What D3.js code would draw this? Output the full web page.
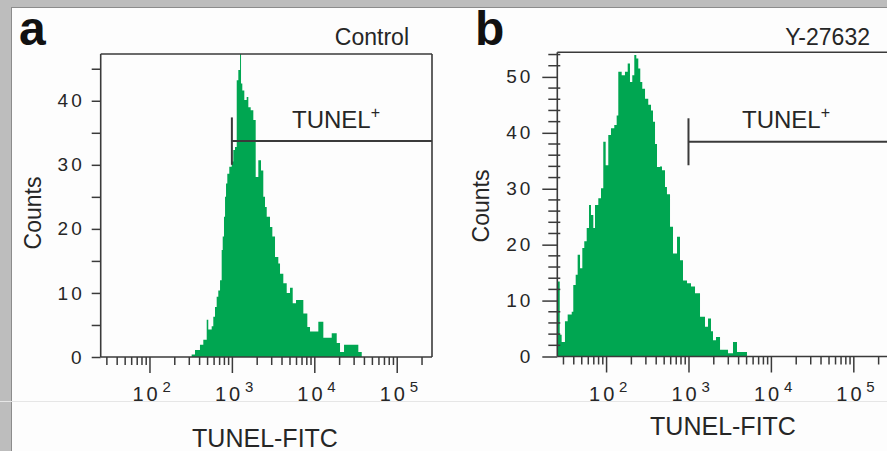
<!DOCTYPE html>
<html>
<head>
<meta charset="utf-8">
<script src="https://cdn.jsdelivr.net/npm/d3@7"></script>
<style>
  html, body { margin: 0; padding: 0; background: #fdfdfd; }
  svg { display: block; }
  text { font-family: "Liberation Sans", Arial, sans-serif; fill: #262626; }
</style>
</head>
<body>
<svg id="chart" width="887" height="451"></svg>
<script>
// ---------------- data ----------------
// Panel a (Control): FITC intensity at the start of each histogram step, and its count
const controlFITC = [325, 357, 410, 450, 495, 517, 569, 595, 624, 654, 684, 718, 752, 774, 802, 826, 849, 880, 930, 995, 1040, 1091, 1145, 1197, 1256, 1291, 1338, 1415, 1513, 1583, 1691, 1820, 1945, 2093, 2256, 2405, 2523, 2647, 2901, 3096, 3337, 3658, 3837, 4207, 4627, 5073, 5472, 6000, 7360, 8230, 8870, 11190, 12870, 16270, 18710, 20520, 22950, 34210, 37640];
const controlCounts = [0.4, 1.1, 1.9, 2.7, 5.8, 4.3, 4.8, 6.3, 7.8, 9.4, 10.4, 12.0, 16.7, 18.8, 21.9, 25, 27.1, 28.6, 29.7, 30.5, 32.3, 32.8, 43.2, 44.8, 47.3, 42.7, 41.6, 40.1, 40.6, 39.0, 38.5, 37.0, 28.1, 30.7, 29.1, 25, 23.4, 21.9, 20.3, 18.8, 15.6, 14.6, 13, 11.5, 10, 10.8, 8.4, 8.9, 6.8, 4.7, 4.0, 5.5, 3.0, 3.7, 2.2, 0.8, 1.9, 0.8, 0];

// Panel b (Y-27632)
const y27632FITC = [25.6, 27.4, 28.9, 31.7, 34.2, 38.3, 40.0, 42.8, 45.2, 48.3, 51.5, 54.4, 58.2, 62.1, 65.6, 70.0, 73.4, 80.5, 86.8, 92.5, 98.9, 106.4, 114.7, 125.8, 134.5, 140.7, 154.7, 169.6, 183, 195, 208, 220, 232.7, 246, 260, 275, 297, 325, 351, 371, 392.6, 415, 451, 477, 519, 548, 597, 649, 726, 789, 858, 960, 1073, 1200, 1380, 1586, 1726, 1876, 1984, 2158, 2414, 3018, 3468, 3878, 5130];
const y27632Counts = [13.4, 3.9, 2.6, 6.3, 7.5, 8.0, 12.8, 14.6, 18.2, 15.8, 19.4, 20.6, 23.0, 27.1, 25.3, 23.0, 27.1, 28.3, 30.1, 38.4, 34.2, 39.6, 40.8, 41.4, 43.1, 50.9, 50.3, 50.9, 52.4, 49.1, 50.3, 53.9, 53.3, 51.5, 49.1, 47.9, 46.1, 45.0, 44, 42, 38, 33.9, 34, 33.3, 30.3, 29, 23.2, 18.4, 21.4, 17.2, 13.6, 13.1, 12.5, 11.3, 7.1, 5.3, 6.8, 4.5, 2.9, 3.5, 1.2, 0.6, 2.6, 0.8, 0];

const panelLetters = ["a", "b"];
const panelTitles = ["Control", "Y-27632"];
const xTitle = "TUNEL-FITC";
const yTitle = "Counts";
const gateLabel = "TUNEL";
const gateSup = "+";
const gateStart = [1000, 1000];          // FITC value where the TUNEL+ gate begins
const gateLevel = [33.7, 38.4];          // count level of the gate bar
const gateHalf = [3.7, 4.2];             // half-height of the gate end mark (counts)
const yMaxCounts = [47.3, 54.4];
const yMajorA = [0, 10, 20, 30, 40];
const yMinorA = [5, 15, 25, 35, 45];
const yMajorB = [0, 10, 20, 30, 40, 50];
const yMinorB = [2, 4, 6, 8, 12, 14, 16, 18, 22, 24, 26, 28, 32, 34, 36, 38, 42, 44, 46, 48, 52, 54];
const xMajorTicks = [1e2, 1e3, 1e4, 1e5];
const xMajorBase = "10";
const xMajorExp = ["2", "3", "4", "5"];
const xDomain = [25.6, 268000];

// ---------------- drawing ----------------
const svg = d3.select("#chart");
const green = "#00a651";
const ink = "#3a3a3a";

// page frame
svg.append("rect").attr("x", 0).attr("y", 0).attr("width", 887).attr("height", 451).attr("fill", "#fdfdfd");
svg.append("rect").attr("x", 0).attr("y", 0).attr("width", 887).attr("height", 7).attr("fill", "#bdbdbd");
svg.append("rect").attr("x", 0).attr("y", 0).attr("width", 11).attr("height", 451).attr("fill", "#bdbdbd");
svg.append("line").attr("x1", 11).attr("x2", 887).attr("y1", 7.5).attr("y2", 7.5).attr("stroke", "#8c8c8c").attr("stroke-width", 1);
svg.append("line").attr("x1", 11.5).attr("x2", 11.5).attr("y1", 7).attr("y2", 451).attr("stroke", "#8c8c8c").attr("stroke-width", 1);
svg.append("line").attr("x1", 0).attr("x2", 887).attr("y1", 401.5).attr("y2", 401.5).attr("stroke", "#e6e6e6").attr("stroke-width", 1);

// minor x ticks: 2..9 x 10^k inside the domain
const xMinorTicks = [];
[1, 2, 3, 4, 5].forEach(k => {
  for (let m = 2; m <= 9; m++) {
    const v = m * Math.pow(10, k);
    if (v >= xDomain[0] && v <= xDomain[1]) xMinorTicks.push(v);
  }
});

const panels = [
  { fitc: controlFITC, counts: controlCounts, xr: [100.7, 432], yr: [357, 54], full: true,
    yMajor: yMajorA, yMinor: yMinorA, letterX: 19, ylabX: 33, ylabY: 213, xlabX: 265, xlabY: 447,
    titleX: 409, gateTextX: 292 },
  { fitc: y27632FITC, counts: y27632Counts, xr: [557.3, 888.6], yr: [356.5, 52.3], full: false,
    yMajor: yMajorB, yMinor: yMinorB, letterX: 475, ylabX: 481, ylabY: 206, xlabX: 723, xlabY: 435,
    titleX: 870, gateTextX: 742 }
];

panels.forEach((p, i) => {
  const x = d3.scaleLog().domain(xDomain).range(p.xr);
  const y = d3.scaleLinear().domain([0, yMaxCounts[i]]).range(p.yr);
  const g = svg.append("g");
  const x0 = p.xr[0], x1 = Math.min(p.xr[1], 887);
  const yb = p.yr[0], yt = p.yr[1];

  // histogram
  const pts = p.fitc.map((v, j) => ({ v: v, c: p.counts[j] }));
  const area = d3.area().curve(d3.curveStepAfter)
    .x(d => x(d.v)).y0(y(0)).y1(d => y(d.c));
  g.append("path").datum(pts).attr("d", area).attr("fill", green).attr("stroke", "none");

  // plot frame
  const fr = (a, b, c, d) => g.append("line").attr("x1", a).attr("x2", b).attr("y1", c).attr("y2", d)
    .attr("stroke", ink).attr("stroke-width", 1.6);
  fr(x0, x1, yt, yt);
  fr(x0, x1, yb, yb);
  fr(x0, x0, yt, yb);
  if (p.full) fr(x1, x1, yt, yb);

  // x axis ticks
  const axMinor = d3.axisBottom(x).tickValues(xMinorTicks).tickSize(8).tickFormat("");
  const axMajor = d3.axisBottom(x).tickValues(xMajorTicks).tickSize(16).tickFormat("");
  [axMinor, axMajor].forEach(ax => {
    const a = g.append("g").attr("transform", `translate(0,${yb})`).call(ax);
    a.select(".domain").remove();
    a.selectAll(".tick line").attr("stroke", ink).attr("stroke-width", 1.5);
  });
  // x tick labels: 10^k  ("10" centred on the tick, exponent to the right)
  xMajorTicks.forEach((v, j) => {
    g.append("text").attr("x", x(v) - 17).attr("y", 401)
      .attr("font-size", 20).attr("letter-spacing", 3).text(xMajorBase);
    g.append("text").attr("x", x(v) + 13).attr("y", 392)
      .attr("font-size", 15).text(xMajorExp[j]);
  });

  // y axis ticks
  const styleTicks = a => {
    a.select(".domain").remove();
    a.selectAll(".tick line").attr("stroke", ink).attr("stroke-width", 1.5);
    a.selectAll(".tick text").attr("font-size", 19).attr("letter-spacing", 3).attr("fill", "#262626")
      .style("font-family", "Liberation Sans, Arial, sans-serif");
  };
  if (p.full) {
    const ayMaj = d3.axisLeft(y).tickValues(p.yMajor).tickSize(9).tickPadding(7).tickFormat(d3.format("d"));
    const ayMin = d3.axisLeft(y).tickValues(p.yMinor).tickSize(9).tickFormat("");
    [ayMaj, ayMin].forEach(ax => styleTicks(g.append("g").attr("transform", `translate(${x0},0)`).call(ax)));
  } else {
    const ayMaj = d3.axisLeft(y).tickValues(p.yMajor).tickSize(15).tickPadding(9).tickFormat(d3.format("d"));
    styleTicks(g.append("g").attr("transform", `translate(${x0},0)`).call(ayMaj));
    g.selectAll(".yminor").data(p.yMinor).enter().append("line")
      .attr("x1", x0 - 9).attr("x2", x0 + 3)
      .attr("y1", d => y(d)).attr("y2", d => y(d))
      .attr("stroke", ink).attr("stroke-width", 1.5);
  }

  // gate
  const gx = x(gateStart[i]);
  g.append("line").attr("x1", gx).attr("x2", x1).attr("y1", y(gateLevel[i])).attr("y2", y(gateLevel[i]))
    .attr("stroke", ink).attr("stroke-width", 2);
  g.append("line").attr("x1", gx).attr("x2", gx)
    .attr("y1", y(gateLevel[i] + gateHalf[i])).attr("y2", y(gateLevel[i] - gateHalf[i]))
    .attr("stroke", ink).attr("stroke-width", 2);
  const gt = g.append("text").attr("x", p.gateTextX).attr("y", 128).attr("font-size", 24);
  gt.append("tspan").text(gateLabel);
  gt.append("tspan").attr("dy", -10).attr("font-size", 16).text(gateSup);

  // titles
  g.append("text").attr("x", p.titleX).attr("y", 45).attr("text-anchor", "end").attr("font-size", 23).text(panelTitles[i]);
  g.append("text").attr("x", p.letterX).attr("y", 45).attr("font-size", 48).attr("font-weight", "bold")
    .style("fill", "#111").text(panelLetters[i]);
  g.append("text").attr("x", p.xlabX).attr("y", p.xlabY).attr("text-anchor", "middle").attr("font-size", 25).text(xTitle);
  g.append("text").attr("transform", `translate(${p.ylabX + 8},${p.ylabY}) rotate(-90)`)
    .attr("text-anchor", "middle").attr("font-size", 23).text(yTitle);
});
</script>
</body>
</html>
